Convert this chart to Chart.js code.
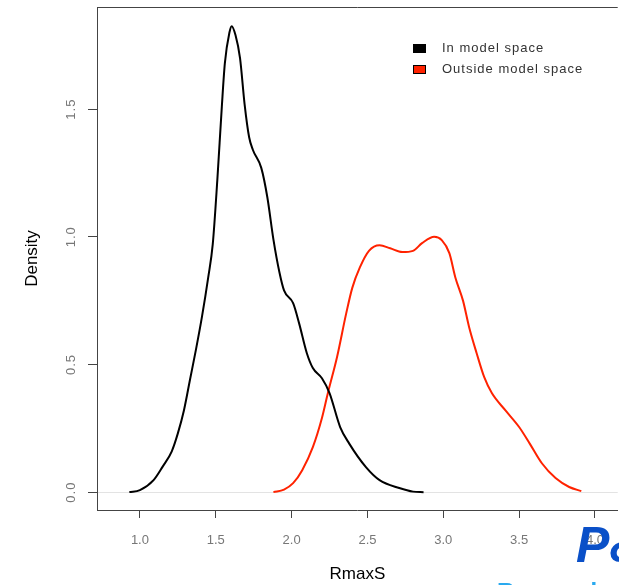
<!DOCTYPE html>
<html>
<head>
<meta charset="utf-8">
<script src="https://cdn.jsdelivr.net/npm/chart.js@4"></script>
<style>
  html, body { margin: 0; padding: 0; background: #fff; }
  #wrap { width: 619px; height: 585px; }
</style>
</head>
<body>
<div id="wrap"><canvas id="myChart" width="619" height="585"></canvas></div>
<script>
// density estimate for RmaxS: [RmaxS, density]
let inModel = [
    [0.93, 0], [1.0, 0.008], [1.09, 0.047], [1.15, 0.10], [1.21, 0.16], [1.25, 0.23],
    [1.29, 0.32], [1.33, 0.44], [1.37, 0.56], [1.41, 0.69], [1.45, 0.84], [1.48, 0.97], [1.51, 1.22],
    [1.54, 1.51], [1.56, 1.68], [1.59, 1.80], [1.605, 1.825], [1.63, 1.79], [1.66, 1.70],
    [1.69, 1.52], [1.72, 1.39], [1.745, 1.34], [1.80, 1.27], [1.84, 1.155], [1.88, 0.99],
    [1.92, 0.86], [1.95, 0.79], [2.01, 0.74], [2.05, 0.66], [2.10, 0.545], [2.14, 0.486],
    [2.20, 0.446], [2.25, 0.388], [2.32, 0.255], [2.38, 0.19], [2.49, 0.098], [2.58, 0.047],
    [2.71, 0.016], [2.80, 0.002], [2.87, 0]
];
let outsideModel = [
    [1.88, 0], [1.95, 0.01], [2.01, 0.035], [2.07, 0.086], [2.14, 0.176], [2.20, 0.29],
    [2.24, 0.39], [2.30, 0.53], [2.36, 0.70], [2.40, 0.80], [2.45, 0.88], [2.51, 0.945],
    [2.58, 0.967], [2.65, 0.955], [2.73, 0.94], [2.80, 0.945], [2.86, 0.975], [2.94, 1.0],
    [2.99, 0.987], [3.04, 0.936], [3.08, 0.84], [3.13, 0.75], [3.17, 0.647], [3.22, 0.544],
    [3.27, 0.45], [3.32, 0.388], [3.41, 0.32], [3.50, 0.255], [3.57, 0.19], [3.65, 0.113],
    [3.74, 0.055], [3.83, 0.02], [3.91, 0.004]
];
let seriesNames = ['In model space', 'Outside model space'];
let seriesColors = ['#000000', '#ff2200'];
let xTicks = [1.0, 1.5, 2.0, 2.5, 3.0, 3.5, 4.0];
let yTicks = [0.0, 0.5, 1.0, 1.5];

const toPoints = arr => arr.map(p => ({ x: p[0], y: p[1] }));
const font = 'Liberation Sans, Arial, sans-serif';

// frame top line, rotated y labels, legend and the watermark
const extras = {
    id: 'extras',
    beforeDatasetsDraw(chart) {
        const { ctx, chartArea } = chart;
        ctx.save();
        ctx.strokeStyle = '#444';
        ctx.lineWidth = 1;
        ctx.beginPath();
        ctx.moveTo(chartArea.left, chartArea.top + 0.5);
        ctx.lineTo(chartArea.right, chartArea.top + 0.5);
        ctx.stroke();
        ctx.restore();
    },
    afterDraw(chart) {
        const { ctx } = chart;
        const y = chart.scales.y;
        ctx.save();
        // y tick labels, rotated like R does
        ctx.fillStyle = '#777';
        ctx.font = '13px ' + font;
        ctx.letterSpacing = '1px';
        ctx.textAlign = 'center';
        ctx.textBaseline = 'middle';
        yTicks.forEach(v => {
            ctx.save();
            ctx.translate(71, y.getPixelForValue(v));
            ctx.rotate(-Math.PI / 2);
            ctx.fillText(v.toFixed(1), 0, 0);
            ctx.restore();
        });
        // legend
        ctx.textAlign = 'left';
        chart.data.datasets.forEach((ds, i) => {
            const cy = 48 + i * 21;
            ctx.fillStyle = ds.borderColor;
            ctx.fillRect(413, cy - 4, 12, 8);
            ctx.strokeStyle = '#000';
            ctx.lineWidth = 1;
            ctx.strokeRect(413.5, cy - 3.5, 12, 8);
            ctx.fillStyle = '#333';
            ctx.font = '13px ' + font;
            ctx.letterSpacing = '1px';
            ctx.fillText(ds.label, 442, cy);
        });
        // watermark in the corner
        ctx.letterSpacing = '0px';
        ctx.fillStyle = '#0a50c8';
        ctx.font = 'italic bold 50px ' + font;
        ctx.textBaseline = 'alphabetic';
        ctx.fillText('P&', 576, 562);
        ctx.fillStyle = '#29a9ef';
        ctx.font = 'bold 24px ' + font;
        ctx.fillText('Research', 497, 600);
        ctx.restore();
    }
};

const chart = document.getElementById('myChart').getContext('2d');

const myChart = new Chart(chart, {
    type: 'line',
    data: {
        datasets: [{
            label: seriesNames[0],
            data: toPoints(inModel),
            borderColor: seriesColors[0],
            backgroundColor: seriesColors[0],
            borderWidth: 2,
            pointRadius: 0,
            cubicInterpolationMode: 'monotone',
            fill: false
        }, {
            label: seriesNames[1],
            data: toPoints(outsideModel),
            borderColor: seriesColors[1],
            backgroundColor: seriesColors[1],
            borderWidth: 2,
            pointRadius: 0,
            cubicInterpolationMode: 'monotone',
            fill: false
        }]
    },
    options: {
        responsive: false,
        animation: false,
        clip: false,
        layout: { padding: { top: 7, left: 0, right: 0, bottom: 0 } },
        plugins: {
            legend: { display: false },
            tooltip: { enabled: false }
        },
        scales: {
            x: {
                type: 'linear',
                min: 0.717,
                max: 4.15,
                afterBuildTicks: s => { s.ticks = xTicks.map(v => ({ value: v })); },
                afterFit: s => { s.height = 75; },
                border: { display: true, color: '#444', width: 1 },
                grid: { drawOnChartArea: false, drawTicks: true, tickLength: 8, tickColor: '#444' },
                ticks: {
                    color: '#777',
                    padding: 15,
                    maxRotation: 0,
                    font: { family: font, size: 13 },
                    callback: v => v.toFixed(1)
                },
                title: {
                    display: true,
                    text: 'RmaxS',
                    color: '#000',
                    padding: { top: 4, bottom: 0 },
                    font: { family: font, size: 17 }
                }
            },
            y: {
                type: 'linear',
                min: -0.07,
                max: 1.9,
                afterBuildTicks: s => { s.ticks = yTicks.map(v => ({ value: v })); },
                afterFit: s => { s.width = 97; },
                border: { display: true, color: '#444', width: 1 },
                grid: {
                    drawOnChartArea: true,
                    drawTicks: true,
                    tickLength: 9,
                    tickColor: '#444',
                    color: c => (c.tick && c.tick.value === 0 ? '#e3e3e3' : 'rgba(0,0,0,0)')
                },
                ticks: { display: false },
                title: {
                    display: true,
                    text: 'Density',
                    color: '#000',
                    padding: { top: 22, bottom: 0 },
                    font: { family: font, size: 17 }
                }
            }
        }
    },
    plugins: [extras]
});
</script>
</body>
</html>
